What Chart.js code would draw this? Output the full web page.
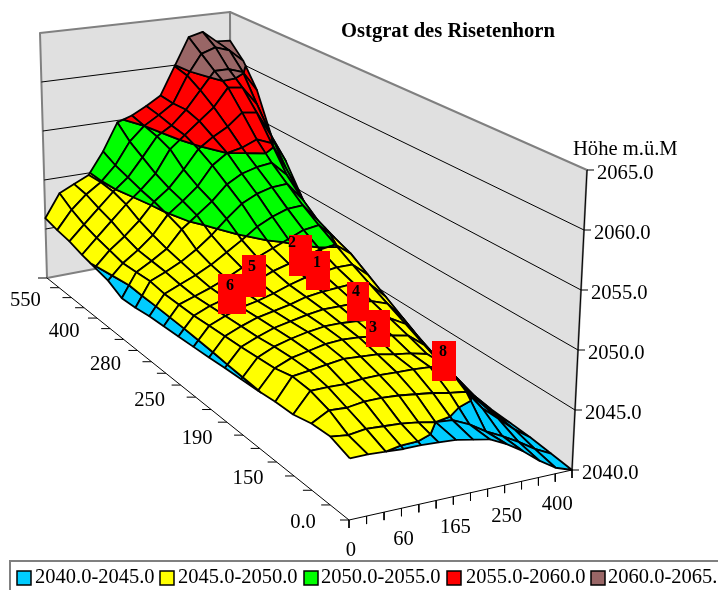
<!DOCTYPE html>
<html>
<head>
<meta charset="utf-8">
<title>Ostgrat des Risetenhorn</title>
<script src="https://cdn.jsdelivr.net/npm/chart.js@4"></script>
<style>
    html, body { margin: 0; padding: 0; background: #fff; }
    canvas { display: block; }
</style>
</head>
<body>
<canvas id="surfaceChart" width="718" height="590"></canvas>
<script>
const chartTitle = "Ostgrat des Risetenhorn";
const heightTitle = "Höhe m.ü.M";
const heightTicks = [2040, 2045, 2050, 2055, 2060, 2065];
const widthLabels = ["0", "60", "165", "250", "400"];
const depthLabels = ["0.0", "150", "190", "250", "280", "400", "550"];
const bandLabels = ["2040.0-2045.0", "2045.0-2050.0", "2050.0-2055.0", "2055.0-2060.0", "2060.0-2065.0"];
const bandColors = ["#00CCFF", "#FFFF00", "#00FF00", "#FF0000", "#996666"];
const markerLabels = ["2", "1", "5", "6", "4", "3", "8"];

// heights, far row first, left to right
const row20 = [2046.1, 2048.4, 2049.1, 2049.8, 2052.0, 2054.8, 2055.3, 2056.1, 2057.0, 2059.9, 2062.8, 2063.2, 2062.0, 2061.9];
const row19 = [2045.8, 2047.6, 2048.9, 2049.9, 2051.4, 2053.6, 2055.0, 2055.9, 2056.9, 2059.6, 2061.7, 2062.2, 2061.7, 2060.4];
const row18 = [2045.6, 2047.0, 2048.4, 2049.8, 2051.0, 2052.8, 2054.7, 2055.6, 2057.0, 2058.8, 2060.6, 2060.6, 2060.1, 2058.0];
const row17 = [2045.2, 2046.6, 2048.0, 2049.4, 2050.6, 2052.0, 2054.2, 2055.4, 2056.6, 2057.8, 2059.6, 2059.4, 2057.5, 2054.0];
const row16 = [2044.9, 2046.3, 2047.4, 2048.7, 2050.3, 2051.4, 2053.0, 2054.8, 2055.8, 2056.6, 2057.8, 2057.6, 2055.0, 2052.2];
const row15 = [2044.6, 2046.0, 2047.0, 2048.2, 2049.9, 2051.0, 2052.2, 2054.0, 2055.0, 2055.3, 2055.9, 2055.3, 2052.5, 2049.6];
const row14 = [2043.9, 2046.1, 2046.9, 2047.8, 2049.4, 2050.5, 2051.6, 2053.0, 2053.8, 2054.2, 2054.4, 2053.0, 2050.5, 2047.2];
const row13 = [2044.0, 2046.2, 2046.8, 2047.5, 2048.4, 2049.5, 2050.8, 2052.0, 2052.7, 2053.1, 2053.2, 2051.5, 2048.5, 2044.9];
const row12 = [2044.2, 2046.0, 2046.6, 2047.2, 2047.9, 2048.8, 2049.7, 2050.7, 2051.4, 2051.9, 2052.0, 2050.3, 2047.3, 2043.9];
const row11 = [2044.3, 2046.0, 2046.5, 2047.0, 2047.6, 2048.3, 2049.0, 2049.6, 2050.2, 2050.8, 2051.0, 2049.6, 2046.5, 2043.8];
const row10 = [2044.4, 2046.0, 2046.6, 2047.0, 2047.5, 2048.1, 2048.7, 2049.1, 2049.5, 2049.9, 2050.1, 2049.0, 2046.0, 2043.7];
const row9 = [2044.5, 2046.1, 2046.7, 2047.2, 2047.5, 2047.9, 2048.4, 2048.8, 2049.0, 2049.2, 2049.2, 2048.0, 2045.3, 2042.8];
const row8 = [2044.6, 2046.2, 2046.8, 2047.3, 2047.6, 2047.9, 2048.3, 2048.5, 2048.6, 2048.7, 2048.4, 2047.0, 2044.6, 2042.1];
const row7 = [2044.75, 2046.3, 2046.9, 2047.4, 2047.7, 2048.0, 2048.2, 2048.2, 2048.2, 2048.1, 2047.6, 2046.0, 2044.0, 2041.5];
const row6 = [2044.85, 2046.45, 2047.1, 2047.5, 2047.8, 2048.0, 2048.0, 2047.9, 2047.8, 2047.6, 2046.8, 2045.0, 2043.2, 2041.1];
const row5 = [2044.97, 2046.6, 2047.2, 2047.5, 2047.8, 2047.9, 2047.8, 2047.6, 2047.4, 2047.1, 2046.0, 2044.2, 2042.6, 2040.8];
const row4 = [2045.15, 2047.0, 2047.2, 2047.4, 2047.6, 2047.5, 2047.4, 2047.1, 2046.9, 2046.55, 2045.2, 2043.6, 2042.0, 2040.6];
const row3 = [2045.2, 2046.9, 2046.9, 2046.85, 2047.0, 2047.0, 2046.95, 2046.9, 2046.8, 2046.6, 2044.6, 2043.0, 2041.6, 2040.5];
const row2 = [2045.6, 2046.4, 2046.3, 2046.5, 2046.5, 2046.4, 2046.2, 2046.0, 2045.7, 2045.5, 2043.8, 2042.6, 2041.4, 2040.4];
const row1 = [2045.7, 2045.5, 2045.7, 2045.6, 2045.5, 2045.3, 2045.0, 2044.85, 2044.2, 2043.3, 2042.6, 2041.8, 2040.9, 2040.2];
const row0 = [2045.1, 2045.1, 2045.0, 2044.9, 2044.9, 2044.8, 2044.7, 2044.4, 2044.1, 2043.4, 2042.5, 2041.4, 2040.5, 2040.0];
const surfaceRows = [row0, row1, row2, row3, row4, row5, row6, row7, row8, row9, row10,
    row11, row12, row13, row14, row15, row16, row17, row18, row19, row20];

const cols = row0.length;
const rows = surfaceRows.length;
const heightMin = heightTicks[0];
const heightMax = heightTicks[heightTicks.length - 1];

// box corners in canvas units: front, right, back, left
const floorCorners = [[349, 520], [572, 470], [231, 243], [47, 278]];
const topCorners = [[353, 218], [587, 170], [230, 12], [40, 33]];

const wallColor = "#E0E0E0";
const wallEdge = "#808080";
const serif = '"Liberation Serif", "Times New Roman", serif';

function quadMapper(p) {
    const [x0, y0] = p[0], [x1, y1] = p[1], [x2, y2] = p[2], [x3, y3] = p[3];
    const sx = x0 - x1 + x2 - x3, sy = y0 - y1 + y2 - y3;
    const dx1 = x1 - x2, dx2 = x3 - x2, dy1 = y1 - y2, dy2 = y3 - y2;
    const den = dx1 * dy2 - dx2 * dy1;
    const g = (sx * dy2 - dx2 * sy) / den;
    const h = (dx1 * sy - sx * dy1) / den;
    return (s, t) => {
        const q = g * s + h * t + 1;
        return [((x1 - x0 + g * x1) * s + (x3 - x0 + h * x3) * t + x0) / q,
                ((y1 - y0 + g * y1) * s + (y3 - y0 + h * y3) * t + y0) / q];
    };
}
const floorMap = quadMapper(floorCorners);
const topMap = quadMapper(topCorners);

// col, row, height to a point on the chart's x and y scales
function project(col, row, height) {
    const s = col / (cols - 1), t = row / (rows - 1);
    const k = (height - heightMin) / (heightMax - heightMin);
    const a = floorMap(s, t), b = topMap(s, t);
    return { x: a[0] + (b[0] - a[0]) * k, y: a[1] + (b[1] - a[1]) * k };
}

function clipPolygon(poly, limit, keepAbove) {
    const out = [];
    poly.forEach((p, i) => {
        const q = poly[(i + 1) % poly.length];
        const pIn = keepAbove ? p[2] >= limit : p[2] <= limit;
        const qIn = keepAbove ? q[2] >= limit : q[2] <= limit;
        if (pIn) out.push(p);
        if (pIn !== qIn) {
            const f = (limit - p[2]) / (q[2] - p[2]);
            out.push([p[0] + (q[0] - p[0]) * f, p[1] + (q[1] - p[1]) * f, limit]);
        }
    });
    return out;
}

function lineSet(points, color, width, fillColor) {
    return {
        data: points,
        showLine: true,
        pointRadius: 0,
        borderColor: color,
        borderWidth: width,
        borderJoinStyle: "round",
        backgroundColor: fillColor || "transparent",
        fill: fillColor ? "shape" : false,
        clip: false,
    };
}

const sets = []; // paint order, back to front

// walls
const wallLeft = [project(0, rows - 1, heightMin), project(cols - 1, rows - 1, heightMin),
    project(cols - 1, rows - 1, heightMax), project(0, rows - 1, heightMax)];
const wallRight = [project(cols - 1, rows - 1, heightMin), project(cols - 1, 0, heightMin),
    project(cols - 1, 0, heightMax), project(cols - 1, rows - 1, heightMax)];
sets.push(lineSet([...wallLeft, wallLeft[0]], wallEdge, 2, wallColor));
sets.push(lineSet([...wallRight, wallRight[0]], wallEdge, 2, wallColor));
heightTicks.slice(1, -1).forEach(h => {
    sets.push(lineSet([project(0, rows - 1, h), project(cols - 1, rows - 1, h), project(cols - 1, 0, h)], "#000", 1));
});

// axes and their tick marks
sets.push(lineSet([project(cols - 1, 0, heightMin), project(cols - 1, 0, heightMax)], "#000", 1));
sets.push(lineSet([project(0, 0, heightMin), project(cols - 1, 0, heightMin)], "#000", 1));
sets.push(lineSet([project(0, 0, heightMin), project(0, rows - 1, heightMin)], "#000", 1));
heightTicks.forEach(h => {
    const p = project(cols - 1, 0, h);
    sets.push(lineSet([p, { x: p.x + 7, y: p.y }], "#000", 1));
});
for (let c = 0; c < cols; c++) {
    const p = project(c, 0, heightMin);
    sets.push(lineSet([p, { x: p.x, y: p.y + 8 }], "#000", 1));
}
for (let r = 0; r < rows; r++) {
    const p = project(0, r, heightMin);
    sets.push(lineSet([p, { x: p.x - 9, y: p.y }], "#000", 1));
}

// surface, far cells first, cut along the height bands
for (let r = rows - 2; r >= 0; r--) {
    for (let c = cols - 2; c >= 0; c--) {
        const cell = [[c, r, surfaceRows[r][c]], [c + 1, r, surfaceRows[r][c + 1]],
            [c + 1, r + 1, surfaceRows[r + 1][c + 1]], [c, r + 1, surfaceRows[r + 1][c]]];
        bandColors.forEach((color, i) => {
            let poly = clipPolygon(cell, heightTicks[i], true);
            if (poly.length) poly = clipPolygon(poly, heightTicks[i + 1], false);
            if (poly.length < 3) return;
            const pts = poly.map(p => project(p[0], p[1], p[2]));
            sets.push(lineSet([...pts, pts[0]], "#000", 1.8, color));
        });
    }
}

// everything that is text, and the pasted number boxes
const markerBoxes = [[289, 235, 23, 41, 3, 8], [306, 251, 24, 39, 11, 12], [242, 255, 24, 42, 10, 12],
    [218, 274, 28, 40, 12, 12], [347, 282, 22, 39, 9, 10], [366, 310, 24, 37, 7, 18], [432, 341, 24, 40, 11, 11]];
const legendSlots = [[17, 35], [160, 178], [304, 321], [447, 466], [591, 608]];

const textLayer = {
    id: "textLayer",
    afterDatasetsDraw(chart) {
        const ctx = chart.ctx;
        const px = v => chart.scales.x.getPixelForValue(v);
        const py = v => chart.scales.y.getPixelForValue(v);
        ctx.save();
        ctx.fillStyle = "#000";
        ctx.textBaseline = "middle";

        ctx.textAlign = "center";
        ctx.font = "bold 20.6px " + serif;
        ctx.fillText(chartTitle, px(448), py(32));

        ctx.font = "20.6px " + serif;
        ctx.textAlign = "left";
        ctx.fillText(heightTitle, px(573), py(150));
        heightTicks.forEach(h => {
            const p = project(cols - 1, 0, h);
            ctx.fillText(h.toFixed(1), px(p.x + 10), py(p.y + 4));
        });
        ctx.textAlign = "center";
        widthLabels.forEach((label, i) => {
            const p = project(i * 3, 0, heightMin);
            ctx.fillText(label, px(p.x + 2), py(p.y + 31));
        });
        depthLabels.forEach((label, i) => {
            const p = project(0, i * 3, heightMin);
            ctx.fillText(label, px(p.x - 46), py(p.y + 3));
        });

        // number boxes
        ctx.font = "bold 16px " + serif;
        markerLabels.forEach((label, i) => {
            const b = markerBoxes[i];
            ctx.fillStyle = "#FF0000";
            ctx.fillRect(px(b[0]), py(b[1]), b[2], b[3]);
        });
        ctx.fillStyle = "#000";
        markerLabels.forEach((label, i) => {
            const b = markerBoxes[i];
            ctx.fillText(label, px(b[0] + b[4]), py(b[1] + b[5]));
        });

        // legend, runs off the right side like the original
        ctx.strokeStyle = wallEdge;
        ctx.lineWidth = 2;
        ctx.strokeRect(px(10), py(561), 720, 40);
        ctx.font = "20.5px " + serif;
        ctx.textAlign = "left";
        bandLabels.forEach((label, i) => {
            const slot = legendSlots[i];
            ctx.fillStyle = bandColors[i];
            ctx.strokeStyle = "#000";
            ctx.lineWidth = 1.5;
            ctx.fillRect(px(slot[0]), py(571), 14, 14);
            ctx.strokeRect(px(slot[0]), py(571), 14, 14);
            ctx.fillStyle = "#000";
            ctx.fillText(label, px(slot[1]), py(578));
        });
        ctx.restore();
    },
};

new Chart(document.getElementById("surfaceChart").getContext("2d"), {
    type: "scatter",
    data: { datasets: sets.reverse() }, // first dataset is painted last
    options: {
        responsive: false,
        animation: false,
        events: [],
        layout: { padding: 0 },
        scales: {
            x: { type: "linear", min: 0, max: 718, display: false },
            y: { type: "linear", min: 0, max: 590, reverse: true, display: false },
        },
        plugins: { legend: { display: false }, tooltip: { enabled: false }, filler: { propagate: false } },
    },
    plugins: [textLayer],
});
</script>
</body>
</html>
